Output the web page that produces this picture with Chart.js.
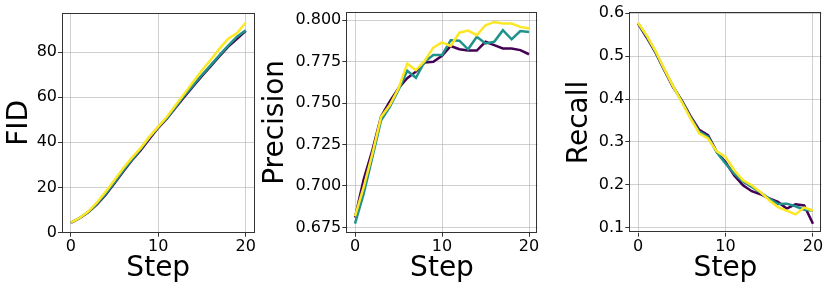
<!DOCTYPE html>
<html>
<head>
<meta charset="utf-8">
<script src="https://cdn.jsdelivr.net/npm/chart.js@4/dist/chart.umd.min.js"></script>
<style>
    body { margin: 0; background: #fff; }
    #wrap { position: relative; width: 830px; height: 291px; }
    canvas { position: absolute; top: 0; }
</style>
</head>
<body>
<div id="wrap">
    <canvas id="fidChart" width="270" height="291" style="left:0px"></canvas>
    <canvas id="precChart" width="294" height="291" style="left:256px"></canvas>
    <canvas id="recallChart" width="280" height="291" style="left:550px"></canvas>
</div>
<script>
// passos
const steps = [0, 1, 2, 3, 4, 5, 6, 7, 8, 9, 10, 11, 12, 13, 14, 15, 16, 17, 18, 19, 20];
const stepTicks = [0, 10, 20];

// FID
const fidPurple = [4.3, 6.3, 9.0, 12.5, 16.8, 21.8, 27.0, 32.0, 36.5, 41.6, 46.4, 50.6, 55.4, 60.2, 64.8, 69.4, 73.7, 78.2, 82.4, 85.8, 89.4];
const fidTeal = [4.4, 6.4, 9.1, 12.8, 17.2, 22.3, 27.5, 32.4, 37.0, 42.2, 46.8, 50.8, 55.8, 60.8, 65.3, 69.9, 74.2, 78.6, 82.8, 86.8, 89.6];
const fidYellow = [4.4, 6.4, 9.3, 13.3, 18.1, 23.3, 28.5, 33.2, 37.5, 42.5, 46.9, 51.3, 56.5, 61.6, 66.8, 71.9, 76.6, 81.5, 85.9, 88.4, 93.0];
const fidTicks = [0, 20, 40, 60, 80];

// Precision
const precPurple = [0.681, 0.704, 0.7216, 0.742, 0.751, 0.759, 0.765, 0.769, 0.7745, 0.775, 0.7785, 0.7845, 0.7825, 0.7817, 0.7817, 0.787, 0.785, 0.783, 0.783, 0.782, 0.7795];
const precTeal = [0.6773, 0.6954, 0.7175, 0.7397, 0.7478, 0.7579, 0.7695, 0.7653, 0.775, 0.779, 0.779, 0.788, 0.7877, 0.7825, 0.790, 0.786, 0.787, 0.794, 0.7885, 0.7935, 0.793];
const precYellow = [0.6817, 0.6994, 0.7196, 0.7417, 0.7488, 0.7589, 0.7738, 0.770, 0.7755, 0.7835, 0.7867, 0.7845, 0.7925, 0.7938, 0.791, 0.797, 0.799, 0.798, 0.798, 0.796, 0.795];
const precTicks = [0.675, 0.700, 0.725, 0.750, 0.775, 0.800];

// Recall
const recPurple = [0.576, 0.543, 0.508, 0.467, 0.428, 0.397, 0.360, 0.328, 0.3156, 0.277, 0.253, 0.222, 0.199, 0.185, 0.178, 0.168, 0.160, 0.1445, 0.1546, 0.152, 0.109];
const recTeal = [0.577, 0.546, 0.510, 0.469, 0.430, 0.395, 0.357, 0.324, 0.312, 0.276, 0.2495, 0.226, 0.207, 0.195, 0.182, 0.168, 0.155, 0.156, 0.150, 0.142, 0.140];
const recYellow = [0.578, 0.548, 0.512, 0.470, 0.430, 0.393, 0.355, 0.320, 0.308, 0.278, 0.265, 0.234, 0.2105, 0.199, 0.183, 0.164, 0.148, 0.140, 0.131, 0.147, 0.140];
const recTicks = [0.1, 0.2, 0.3, 0.4, 0.5, 0.6];

const colors = ['#440154', '#21918c', '#fde725'];
const font = 'DejaVu Sans';

// moldura em volta da área do gráfico
const framePlugin = {
    id: 'frame',
    afterDatasetsDraw(chart) {
        const a = chart.chartArea;
        const ctx = chart.ctx;
        ctx.save();
        ctx.strokeStyle = '#333';
        ctx.lineWidth = 1;
        ctx.strokeRect(Math.round(a.left) + 0.5, Math.round(a.top) + 0.5, Math.round(a.right - a.left) - 1, Math.round(a.bottom - a.top) - 1);
        ctx.restore();
    }
};

function makeChart(id, title, series, yMin, yMax, yTicks, fmt, box) {
    const ctx = document.getElementById(id).getContext('2d');
    return new Chart(ctx, {
        type: 'line',
        data: {
            datasets: series.map((values, i) => ({
                data: steps.map((s, j) => ({ x: s, y: values[j] })),
                borderColor: colors[i],
                borderWidth: 2.5,
                pointRadius: 0,
                tension: 0,
                fill: false,
                order: series.length - 1 - i   // amarelo por cima
            }))
        },
        options: {
            responsive: false,
            animation: false,
            devicePixelRatio: 1,
            layout: { padding: { top: box.top, right: box.right, left: 0, bottom: 0 } },
            plugins: { legend: { display: false }, tooltip: { enabled: false } },
            scales: {
                x: {
                    type: 'linear',
                    min: -1,
                    max: 21,
                    afterBuildTicks: axis => { axis.ticks = stepTicks.map(v => ({ value: v })); },
                    afterFit: axis => { axis.height = box.xHeight; },
                    grid: { color: 'rgba(176,176,176,0.6)', lineWidth: 1, tickColor: '#333', tickLength: 4 },
                    border: { display: false },
                    ticks: { color: '#000', font: { family: font, size: 16 }, padding: 1, maxRotation: 0 },
                    title: { display: true, text: 'Step', color: '#000', font: { family: font, size: 28 }, padding: { top: 0, bottom: 5 } }
                },
                y: {
                    type: 'linear',
                    min: yMin,
                    max: yMax,
                    afterBuildTicks: axis => { axis.ticks = yTicks.map(v => ({ value: v })); },
                    afterFit: axis => { axis.width = box.yWidth; },
                    grid: { color: 'rgba(176,176,176,0.6)', lineWidth: 1, tickColor: '#333', tickLength: 4 },
                    border: { display: false },
                    ticks: { color: '#000', font: { family: font, size: 16 }, padding: 1, callback: fmt },
                    title: { display: true, text: title, color: '#000', font: { family: font, size: 28 }, padding: { top: box.titlePad, bottom: 0 } }
                }
            }
        },
        plugins: [framePlugin]
    });
}

makeChart('fidChart', 'FID', [fidPurple, fidTeal, fidYellow], -0.1, 97.3, fidTicks,
    v => String(v), { top: 13, right: 15.5, xHeight: 58.3, yWidth: 62, titlePad: 2.5 });
makeChart('precChart', 'Precision', [precPurple, precTeal, precYellow], 0.6718, 0.805, precTicks,
    v => v.toFixed(3), { top: 12, right: 12.3, xHeight: 58.3, yWidth: 90.3, titlePad: 2.5 });
makeChart('recallChart', 'Recall', [recPurple, recTeal, recYellow], 0.0883, 0.6023, recTicks,
    v => v.toFixed(1), { top: 12.3, right: 8.3, xHeight: 58.3, yWidth: 79.3, titlePad: 13.2 });
</script>
</body>
</html>
